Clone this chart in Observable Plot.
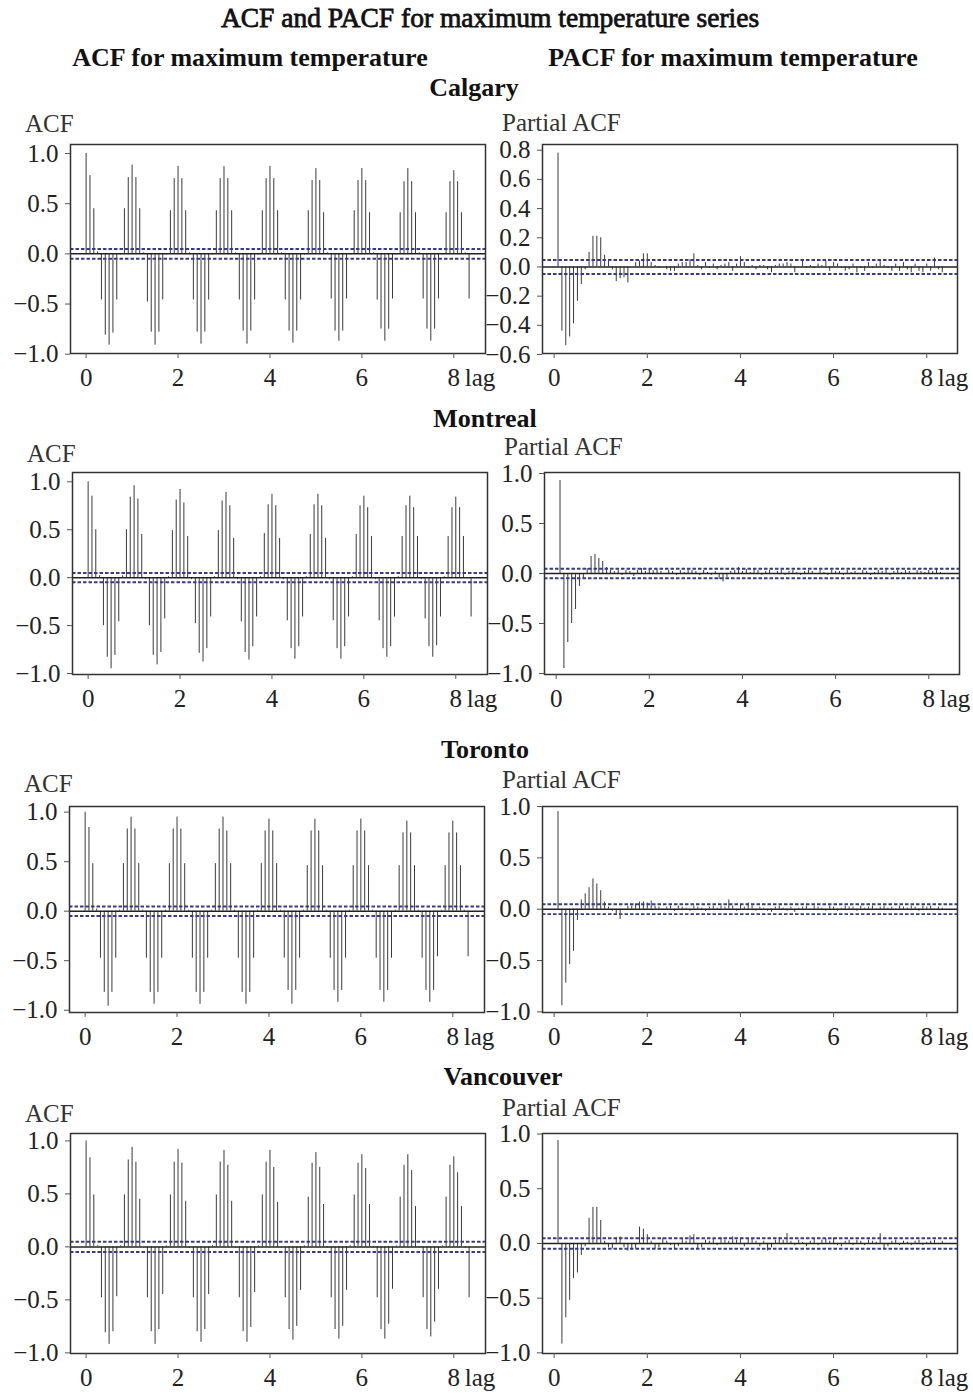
<!DOCTYPE html>
<html><head><meta charset="utf-8">
<script src="https://cdn.jsdelivr.net/npm/d3@7"></script>
<script src="https://cdn.jsdelivr.net/npm/@observablehq/plot@0.6"></script>
<style>
body{margin:0;background:#fff;}
#page{position:relative;width:973px;height:1397px;overflow:hidden;background:#fff;}
#page svg{position:absolute;}
</style></head><body><div id="page"></div>
<script>
// ---------------- data ----------------
const cities = ["Calgary", "Montreal", "Toronto", "Vancouver"];
const xTicks = [0, 2, 4, 6, 8];
const acfTicks = [-1, -0.5, 0, 0.5, 1];
const pacfTicksCalgary = [-0.6, -0.4, -0.2, 0, 0.2, 0.4, 0.6, 0.8];
const pacfTicksOther = [-1, -0.5, 0, 0.5, 1];
const confLimit = 0.048;

// ACF, lags 0..100 (monthly, lag unit = years)
const calgaryAcf = [
 1.00, 0.78, 0.45, 0.02, -0.46, -0.81, -0.91, -0.79, -0.46, -0.01, 0.45, 0.76,
 0.885, 0.76, 0.45, 0.01, -0.48, -0.78, -0.91, -0.78, -0.46, -0.01, 0.43, 0.75,
 0.87, 0.75, 0.43, 0.01, -0.46, -0.78, -0.90, -0.78, -0.46, -0.01, 0.43, 0.75,
 0.87, 0.75, 0.43, 0.01, -0.46, -0.77, -0.90, -0.77, -0.46, -0.01, 0.43, 0.75,
 0.87, 0.75, 0.43, 0.01, -0.46, -0.77, -0.89, -0.77, -0.46, -0.01, 0.43, 0.73,
 0.85, 0.73, 0.41, 0.01, -0.45, -0.77, -0.87, -0.77, -0.45, -0.01, 0.43, 0.73,
 0.85, 0.73, 0.41, 0.01, -0.46, -0.75, -0.87, -0.75, -0.45, -0.01, 0.41, 0.72,
 0.85, 0.72, 0.41, 0.01, -0.45, -0.75, -0.87, -0.75, -0.45, -0.01, 0.41, 0.72,
 0.83, 0.72, 0.41, 0.01, -0.45];
const montrealAcf = [
 1.00, 0.85, 0.50, 0.02, -0.50, -0.83, -0.95, -0.81, -0.46, 0.02, 0.50, 0.84,
 0.96, 0.82, 0.45, -0.02, -0.50, -0.81, -0.91, -0.78, -0.43, 0.01, 0.49, 0.81,
 0.92, 0.78, 0.43, -0.02, -0.48, -0.79, -0.88, -0.74, -0.41, 0.01, 0.49, 0.80,
 0.89, 0.75, 0.41, -0.02, -0.46, -0.78, -0.86, -0.72, -0.41, 0.01, 0.46, 0.76,
 0.87, 0.75, 0.41, -0.02, -0.45, -0.74, -0.85, -0.72, -0.41, 0.01, 0.45, 0.76,
 0.87, 0.75, 0.41, -0.02, -0.45, -0.74, -0.85, -0.72, -0.41, 0.01, 0.45, 0.75,
 0.85, 0.73, 0.43, -0.02, -0.45, -0.74, -0.83, -0.72, -0.41, 0.01, 0.43, 0.75,
 0.85, 0.73, 0.43, -0.02, -0.43, -0.72, -0.83, -0.71, -0.41, 0.01, 0.43, 0.73,
 0.84, 0.73, 0.43, -0.01, -0.41];
const torontoAcf = [
 1.00, 0.845, 0.48, 0.02, -0.475, -0.82, -0.96, -0.82, -0.475, 0.01, 0.48, 0.83,
 0.95, 0.83, 0.48, 0.01, -0.475, -0.82, -0.94, -0.82, -0.475, 0.01, 0.48, 0.83,
 0.95, 0.83, 0.48, 0.01, -0.475, -0.82, -0.94, -0.82, -0.475, 0.01, 0.48, 0.83,
 0.95, 0.81, 0.48, 0.01, -0.475, -0.82, -0.94, -0.82, -0.475, 0.01, 0.48, 0.81,
 0.93, 0.81, 0.48, 0.01, -0.475, -0.80, -0.94, -0.80, -0.475, 0.01, 0.46, 0.81,
 0.93, 0.81, 0.46, 0.01, -0.475, -0.80, -0.92, -0.80, -0.475, 0.01, 0.46, 0.81,
 0.93, 0.81, 0.46, 0.01, -0.475, -0.80, -0.92, -0.80, -0.475, 0.01, 0.46, 0.79,
 0.91, 0.79, 0.46, 0.01, -0.475, -0.80, -0.92, -0.80, -0.46, 0.01, 0.46, 0.79,
 0.91, 0.79, 0.46, 0.01, -0.46];
const vancouverAcf = [
 1.00, 0.84, 0.49, 0.01, -0.48, -0.81, -0.92, -0.80, -0.47, 0.01, 0.49, 0.82,
 0.94, 0.80, 0.45, 0.00, -0.48, -0.80, -0.92, -0.78, -0.45, 0.01, 0.49, 0.80,
 0.92, 0.79, 0.43, -0.01, -0.48, -0.80, -0.90, -0.78, -0.45, 0.01, 0.49, 0.80,
 0.91, 0.77, 0.43, -0.01, -0.48, -0.80, -0.90, -0.76, -0.43, 0.01, 0.49, 0.80,
 0.91, 0.75, 0.42, -0.01, -0.48, -0.78, -0.88, -0.75, -0.41, 0.01, 0.47, 0.79,
 0.89, 0.75, 0.40, -0.01, -0.48, -0.78, -0.87, -0.75, -0.41, 0.01, 0.49, 0.79,
 0.87, 0.74, 0.40, -0.01, -0.48, -0.78, -0.87, -0.73, -0.40, 0.01, 0.47, 0.77,
 0.87, 0.72, 0.38, -0.01, -0.48, -0.78, -0.85, -0.71, -0.40, 0.01, 0.47, 0.77,
 0.85, 0.70, 0.38, -0.01, -0.48];

// PACF, lags 1..100
const calgaryPacf = [
 0.78, -0.44, -0.54, -0.48, -0.39, -0.235, -0.12, -0.02, 0.10, 0.21, 0.21, 0.20,
 0.08, 0.05, -0.02, -0.10, -0.08, -0.075, -0.11, 0.00, 0.03, 0.04, 0.09, 0.09,
 0.03, 0.01, -0.01, 0.00, -0.02, -0.03, -0.03, 0.02, 0.03, 0.03, 0.05, 0.09,
 0.01, -0.02, 0.03, -0.01, 0.02, -0.02, 0.01, 0.02, 0.03, -0.03, 0.02, 0.07,
 0.03, -0.01, 0.01, -0.02, 0.01, 0.01, -0.02, -0.04, 0.01, 0.02, 0.02, 0.03,
 0.02, -0.04, 0.00, 0.04, -0.01, 0.01, -0.01, 0.02, 0.01, 0.04, -0.03, 0.03,
 0.02, -0.01, -0.03, -0.02, 0.02, -0.04, -0.01, -0.03, 0.03, -0.01, 0.02, 0.05,
 0.01, -0.01, -0.03, 0.02, -0.03, 0.03, -0.02, -0.04, 0.02, -0.03, -0.04, 0.02,
 -0.03, 0.06, -0.02, -0.04];
const montrealPacf = [
 0.93, -0.95, -0.69, -0.50, -0.36, -0.13, -0.06, 0.05, 0.17, 0.19, 0.15, 0.12,
 0.06, 0.03, 0.02, 0.03, -0.02, 0.03, 0.02, -0.03, 0.03, 0.05, 0.02, 0.04,
 0.03, 0.04, 0.02, -0.01, 0.03, 0.02, -0.02, 0.03, 0.01, 0.04, 0.03, 0.02,
 -0.02, 0.03, 0.01, -0.02, 0.02, -0.06, -0.085, -0.04, 0.02, 0.03, 0.06, 0.02,
 0.04, 0.01, 0.05, 0.03, -0.02, 0.02, 0.03, -0.01, 0.02, 0.03, -0.02, 0.02,
 0.03, 0.01, -0.02, 0.02, 0.03, 0.02, -0.01, 0.03, 0.01, -0.02, 0.03, 0.02,
 0.02, -0.02, 0.03, 0.01, 0.02, -0.01, 0.03, 0.02, -0.02, 0.01, 0.03, 0.02,
 0.03, -0.02, 0.02, 0.03, 0.01, 0.03, 0.02, -0.01, 0.03, 0.02, 0.01, 0.03,
 0.02, 0.04, 0.01, -0.01];
const torontoPacf = [
 0.95, -0.94, -0.72, -0.54, -0.41, -0.11, 0.09, 0.15, 0.21, 0.295, 0.245, 0.18,
 0.07, 0.02, -0.02, -0.05, -0.10, 0.00, 0.03, 0.03, 0.05, 0.07, 0.07, 0.06,
 0.08, 0.03, 0.02, -0.01, 0.02, 0.03, -0.02, 0.03, 0.02, 0.01, -0.02, 0.03,
 0.02, 0.01, -0.02, 0.02, 0.03, 0.01, 0.03, 0.02, 0.09, 0.03, -0.02, 0.04,
 0.02, 0.06, 0.03, -0.02, 0.02, 0.01, -0.02, -0.03, 0.02, 0.03, 0.01, -0.02,
 0.02, -0.03, 0.01, 0.02, 0.03, -0.01, 0.03, 0.02, 0.01, -0.02, 0.03, 0.02,
 -0.02, 0.01, 0.03, 0.02, 0.02, -0.02, 0.03, 0.01, 0.02, 0.03, -0.01, 0.02,
 0.03, 0.01, 0.02, -0.01, 0.03, 0.02, 0.01, 0.03, 0.02, -0.02, 0.03, 0.02,
 0.03, -0.01, 0.02, 0.01];
const vancouverPacf = [
 0.94, -0.92, -0.68, -0.52, -0.32, -0.27, -0.11, -0.03, 0.23, 0.33, 0.33, 0.21,
 0.02, -0.04, -0.05, 0.05, 0.06, -0.04, -0.07, -0.06, -0.05, 0.15, 0.13, 0.08,
 0.02, -0.05, -0.04, 0.05, 0.02, -0.02, -0.05, -0.03, 0.04, 0.02, 0.07, 0.08,
 -0.06, -0.04, 0.03, 0.02, 0.04, -0.02, 0.05, 0.03, 0.02, 0.06, 0.03, 0.05,
 -0.03, 0.04, 0.05, 0.02, -0.03, 0.02, -0.07, -0.04, 0.03, 0.05, 0.03, 0.09,
 0.02, -0.02, 0.03, 0.01, -0.03, 0.02, 0.04, -0.02, 0.03, 0.04, 0.02, 0.05,
 -0.02, -0.03, 0.02, 0.03, -0.02, 0.03, 0.02, -0.02, 0.03, 0.02, 0.01, 0.09,
 -0.05, -0.03, 0.02, 0.03, -0.02, 0.02, 0.01, -0.02, 0.02, 0.03, -0.02, 0.01,
 0.02, 0.03, -0.01, 0.02];

// ---------------- layout ----------------
const FONT = "'Liberation Serif', 'DejaVu Serif', serif";
const rows = [
  {city: cities[0], acf: calgaryAcf, pacf: calgaryPacf, pacfTicks: pacfTicksCalgary,
   cityX: 474, cityY: 96, acfLabY: 132, pacfLabY: 131,
   acfBox: [70, 144, 485, 353], acfY: [-0.993, 1.09],
   pacfBox: [542, 144, 957, 353], pacfY: [-0.593, 0.839]},
  {city: cities[1], acf: montrealAcf, pacf: montrealPacf, pacfTicks: pacfTicksOther,
   cityX: 485, cityY: 427, acfLabY: 462, pacfLabY: 455,
   acfBox: [72, 472, 487, 674], acfY: [-1.01, 1.097],
   pacfBox: [544, 472, 959, 674], pacfY: [-1.01, 1.01]},
  {city: cities[2], acf: torontoAcf, pacf: torontoPacf, pacfTicks: pacfTicksOther,
   cityX: 485, cityY: 758, acfLabY: 792, pacfLabY: 788,
   acfBox: [69, 806, 484, 1012], acfY: [-1.023, 1.057],
   pacfBox: [542, 806, 957, 1012], pacfY: [-1.006, 1.0]},
  {city: cities[3], acf: vancouverAcf, pacf: vancouverPacf, pacfTicks: pacfTicksOther,
   cityX: 503, cityY: 1085, acfLabY: 1122, pacfLabY: 1116,
   acfBox: [70, 1133, 485, 1353], acfY: [-1.006, 1.07],
   pacfBox: [542, 1133, 957, 1353], pacfY: [-1.006, 1.005]}
];

const page = document.getElementById("page");

function panel(values, firstLag, box, yDomain, yTicks, xDomain) {
  const [L, T, R, B] = box;
  const mL = 75, mR = 40, mT = 10, mB = 45;
  const data = values.map((v, i) => ({lag: (i + firstLag) / 12, v}));
  const svg = Plot.plot({
    width: mL + (R - L) + mR,
    height: mT + (B - T) + mB,
    marginLeft: mL, marginRight: mR, marginTop: mT, marginBottom: mB,
    style: {background: "transparent", overflow: "visible", fontFamily: FONT, fontSize: "25px", color: "#222"},
    x: {domain: xDomain},
    y: {domain: yDomain},
    marks: [
      Plot.ruleX(data, {x: "lag", y1: 0, y2: "v", stroke: "#3a3a3a", strokeWidth: 1}),
      Plot.ruleY([0], {stroke: "#222", strokeWidth: 1.5}),
      Plot.ruleY([confLimit, -confLimit], {stroke: "#3a3a86", strokeWidth: 1.9, strokeDasharray: "3.5,2"}),
      Plot.frame({stroke: "#333", strokeWidth: 1.5}),
      Plot.axisX(xTicks, {tickSize: 5, tickPadding: 10, tickFormat: d => String(d), label: null, stroke: "#555"}),
      Plot.axisY(yTicks, {tickSize: 5, tickPadding: 7, tickFormat: d3.format(".1f"), label: null, stroke: "#555"}),
      Plot.text(["lag"], {x: () => xTicks[xTicks.length - 1], frameAnchor: "bottom", lineAnchor: "top",
        dy: 15, dx: 11, textAnchor: "start", text: d => d})
    ]
  });
  svg.style.left = (L - mL) + "px";
  svg.style.top = (T - mT) + "px";
  page.appendChild(svg);
}

for (const r of rows) {
  panel(r.acf, 0, r.acfBox, r.acfY, acfTicks, [-0.34, 8.69]);
  panel(r.pacf, 1, r.pacfBox, r.pacfY, r.pacfTicks, [-0.25, 8.66]);
}

// ---------------- text overlay ----------------
const overlay = d3.select(page).append("svg")
  .attr("width", 973).attr("height", 1397)
  .style("left", "0px").style("top", "0px")
  .style("pointer-events", "none")
  .style("font-family", FONT);

overlay.append("text").attr("x", 490).attr("y", 27).attr("text-anchor", "middle")
  .attr("font-size", 27.5).attr("fill", "#111").attr("stroke", "#111").attr("stroke-width", 0.8)
  .text("ACF and PACF for maximum temperature series");
overlay.append("text").attr("x", 250).attr("y", 66).attr("text-anchor", "middle")
  .attr("font-size", 26).attr("font-weight", "bold").attr("fill", "#111")
  .text("ACF for maximum temperature");
overlay.append("text").attr("x", 733).attr("y", 66).attr("text-anchor", "middle")
  .attr("font-size", 26).attr("font-weight", "bold").attr("fill", "#111")
  .text("PACF for maximum temperature");

for (const r of rows) {
  overlay.append("text").attr("x", r.cityX).attr("y", r.cityY).attr("text-anchor", "middle")
    .attr("font-size", 26).attr("font-weight", "bold").attr("fill", "#111").text(r.city);
  overlay.append("text").attr("x", r.acfBox[0] - 45).attr("y", r.acfLabY)
    .attr("font-size", 25).attr("fill", "#333").text("ACF");
  overlay.append("text").attr("x", r.pacfBox[0] - 40).attr("y", r.pacfLabY)
    .attr("font-size", 25).attr("fill", "#333").text("Partial ACF");
}
</script></body></html>
